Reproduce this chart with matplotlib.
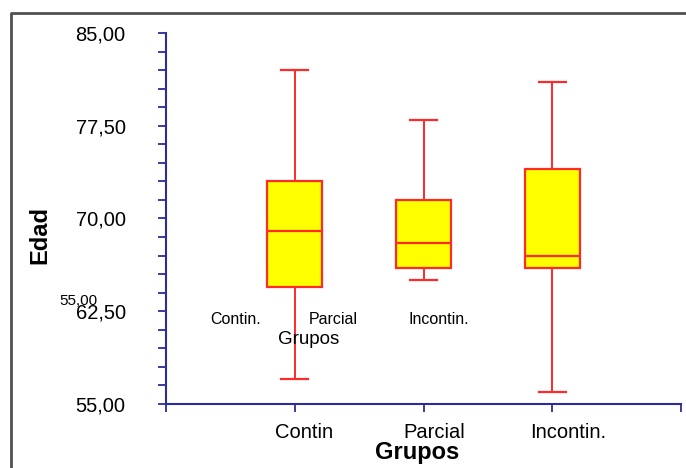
import matplotlib
matplotlib.use("Agg")
import matplotlib.pyplot as plt
import matplotlib.transforms as mtransforms
from matplotlib.lines import Line2D
from matplotlib.ticker import FixedLocator, MultipleLocator

plt.rcParams['font.family'] = ['Liberation Sans', 'DejaVu Sans']

# resumen de cada grupo (edad)
grupos = ["Contin", "Parcial", "Incontin."]
minimos = [57.0, 65.0, 56.0]
q1 = [64.5, 66.0, 66.0]
medianas = [69.0, 68.0, 67.0]
q3 = [73.0, 71.5, 74.0]
maximos = [82.0, 78.0, 81.0]

y_ticks = [55.0, 62.5, 70.0, 77.5, 85.0]
y_labels = ["55,00", "62,50", "70,00", "77,50", "85,00"]

W, H = 686, 468
fig = plt.figure(figsize=(W / 100, H / 100), dpi=100)
ax = fig.add_axes([166 / W, (H - 404) / H, (681 - 166) / W, (404 - 33) / H])

stats = []
for i, g in enumerate(grupos):
    stats.append(dict(label=g, whislo=minimos[i], q1=q1[i], med=medianas[i],
                      q3=q3[i], whishi=maximos[i], fliers=[]))

rojo = '#ff2a2a'
ax.bxp(stats, positions=[1, 2, 3], widths=0.43, patch_artist=True,
       showfliers=False, capwidths=0.21,
       boxprops=dict(facecolor='#ffff00', edgecolor=rojo, linewidth=1.6),
       medianprops=dict(color=rojo, linewidth=1.6),
       whiskerprops=dict(color=rojo, linewidth=1.4),
       capprops=dict(color=rojo, linewidth=1.6))

ax.set_xlim(0, 4)
ax.set_ylim(55, 85)

azul = '#2b2b9c'
for s in ['top', 'right']:
    ax.spines[s].set_visible(False)
for s in ['left', 'bottom']:
    ax.spines[s].set_color(azul)
    ax.spines[s].set_linewidth(1.5)

ax.yaxis.set_major_locator(FixedLocator(y_ticks))
ax.yaxis.set_minor_locator(MultipleLocator(1.5, offset=55))
ax.set_yticklabels(y_labels)
ax.xaxis.set_major_locator(FixedLocator([0, 1, 2, 3, 4]))
ax.set_xticklabels(["", "Contin", "Parcial", "Incontin.", ""])

ax.tick_params(axis='y', which='both', direction='out', length=6, width=1.3,
               color=azul, labelsize=14.5, pad=23)
ax.tick_params(axis='x', which='major', direction='out', length=6, width=1.3,
               color=azul, labelsize=14.5, pad=8)

# las etiquetas del eje x quedan algo corridas a la derecha
for lab, dx in zip(ax.get_xticklabels(), [0, 9, 11, 16, 0]):
    off = mtransforms.ScaledTranslation(dx / 100, 0, fig.dpi_scale_trans)
    lab.set_transform(lab.get_transform() + off)

fig.text(40 / W, 1 - 235 / H, "Edad", fontsize=17, fontweight='bold',
         rotation=90, ha='center', va='center')
fig.text(417 / W, 1 - 453 / H, "Grupos", fontsize=17, fontweight='bold',
         ha='center', va='center')

# textos sueltos dentro del grafico
fig.text(59 / W, 1 - 301 / H, "55,00", fontsize=11, ha='left', va='center')
fig.text(210 / W, 1 - 319 / H, "Contin.", fontsize=11.5, ha='left', va='center')
fig.text(309 / W, 1 - 319 / H, "Parcial", fontsize=11.5, ha='left', va='center')
fig.text(408 / W, 1 - 319 / H, "Incontin.", fontsize=11.5, ha='left', va='center')
fig.text(278 / W, 1 - 339 / H, "Grupos", fontsize=13.5, ha='left', va='center')

# marco exterior
fig.add_artist(Line2D([11 / W, 11 / W, 1], [0, 1 - 13 / H, 1 - 13 / H],
                      transform=fig.transFigure, color='#505050', linewidth=2))

fig.savefig("out.png", dpi=100)
